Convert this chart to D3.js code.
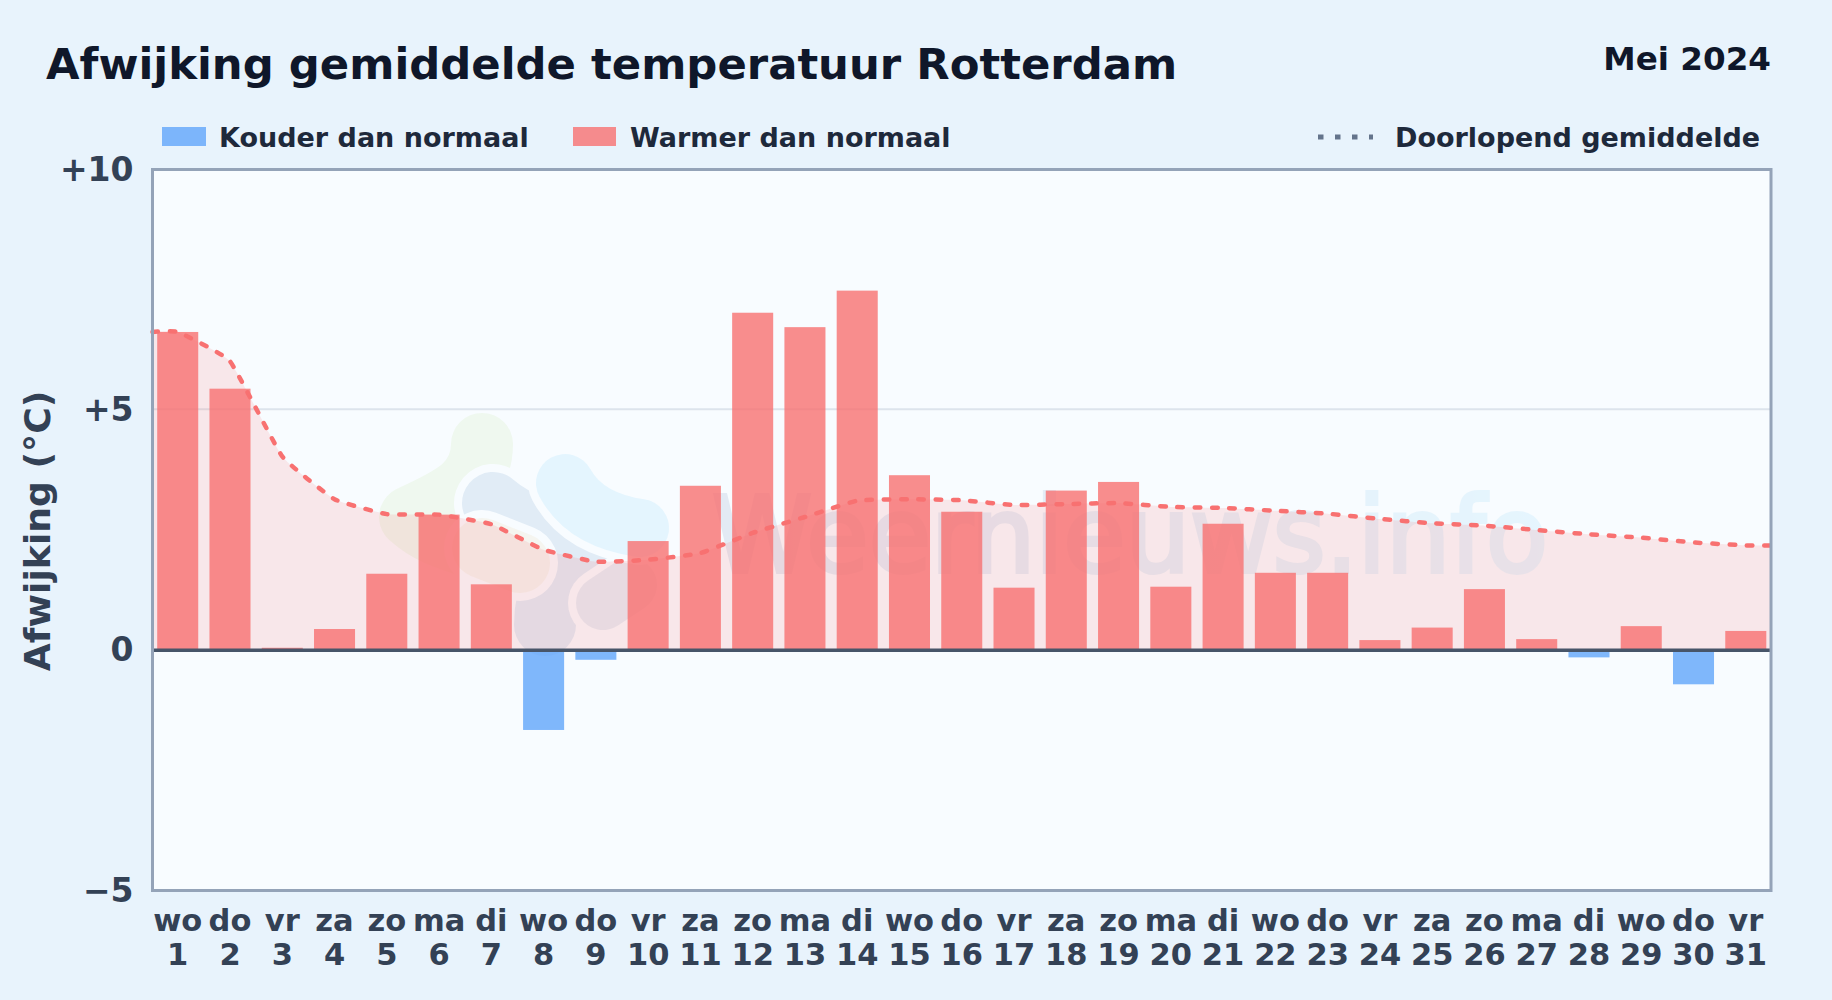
<!DOCTYPE html>
<html>
<head>
<meta charset="utf-8">
<script src="https://cdn.jsdelivr.net/npm/d3@7"></script>
<style>
html, body { margin: 0; padding: 0; background: #e8f3fc; }
svg { display: block; font-family: "DejaVu Sans", sans-serif; font-weight: 700; }
</style>
</head>
<body>
<div id="chart"></div>
<script>
// Values
const weekdays = ["wo","do","vr","za","zo","ma","di","wo","do","vr","za","zo","ma","di","wo","do","vr","za","zo","ma","di","wo","do","vr","za","zo","ma","di","wo","do","vr"];
const days = [1,2,3,4,5,6,7,8,9,10,11,12,13,14,15,16,17,18,19,20,21,22,23,24,25,26,27,28,29,30,31];
const deviation = [6.62,5.44,0.05,0.44,1.59,2.82,1.37,-1.66,-0.2,2.27,3.42,7.02,6.72,7.48,3.64,2.88,1.3,3.32,3.5,1.32,2.63,1.61,1.61,0.21,0.47,1.27,0.23,-0.15,0.5,-0.71,0.4];
const runningMean = [6.62,6.01,4.03,3.14,2.83,2.82,2.62,2.09,1.84,1.88,2.02,2.44,2.77,3.11,3.14,3.12,3.02,3.04,3.06,2.98,2.96,2.9,2.84,2.73,2.64,2.59,2.5,2.41,2.34,2.24,2.18];
const yTicks = [10,5,0,-5];
const yLabels = ["+10","+5","0","\u22125"];

const width = 1832, height = 1000;
const plotLeft = 152.5, plotRight = 1771, plotTop = 169.5, plotBottom = 890.5;
const dark = "#0f172a", label = "#334155", legendText = "#1e293b";
const warm = "#f87171", cold = "#60a5fa", lineColor = "#f87171", plotBg = "#f8fcff";

const svg = d3.select("#chart")
    .append("svg")
    .attr("width", width)
    .attr("height", height)
    .attr("viewBox", "0 0 "+width+" "+height);

const x = d3.scaleBand().domain(days).range([plotLeft, plotRight]).paddingInner(0.215).paddingOuter(0.09);
const y = d3.scaleLinear().domain([-5, 10]).range([plotBottom, plotTop]);

// Background
svg.append("rect").attr("width", width).attr("height", height).attr("fill", "#e8f3fc");
svg.append("rect").attr("x", plotLeft).attr("y", plotTop)
    .attr("width", plotRight-plotLeft).attr("height", plotBottom-plotTop).attr("fill", plotBg);

// Watermark logo and name
const logo = svg.append("g").attr("fill", "none").attr("stroke-linecap", "round").attr("stroke-linejoin", "round");
const blob = (d, color, w, op) => {
    logo.append("path").attr("d", d).attr("stroke", plotBg).attr("stroke-width", w+16);
    logo.append("path").attr("d", d).attr("stroke", color).attr("stroke-width", w).attr("stroke-opacity", op);
};
blob("M482,444C482,487 445,500 410,517C430,535 450,540 475,548", "#84cc16", 62, 0.07);
blob("M493,503Q527,532 587,540Q545,575 545,625", "#1d5fa8", 62, 0.1);
blob("M482,548L520,563", "#d9a441", 60, 0.08);
blob("M603,603L630,585", "#3b5b8c", 54, 0.09);
blob("M565,483Q585,520 640,528", "#38bdf8", 58, 0.1);

const wmGrad = svg.append("defs").append("linearGradient").attr("id", "wm")
    .attr("gradientUnits", "userSpaceOnUse")
    .attr("x1", 712).attr("y1", 0).attr("x2", 1548).attr("y2", 0);
wmGrad.append("stop").attr("offset", "0%").attr("stop-color", "#1e3a8a");
wmGrad.append("stop").attr("offset", "100%").attr("stop-color", "#38bdf8");

svg.append("text")
    .text("Weernieuws.info")
    .attr("x", 712).attr("y", 572)
    .attr("font-size", 106)
    .attr("font-weight", 400)
    .attr("textLength", 836)
    .attr("lengthAdjust", "spacingAndGlyphs")
    .attr("fill", "url(#wm)")
    .attr("stroke", "url(#wm)")
    .attr("stroke-width", 4)
    .attr("opacity", 0.09);

// Grid line
svg.append("line")
    .attr("x1", plotLeft).attr("x2", plotRight)
    .attr("y1", y(5)-0.5).attr("y2", y(5)-0.5)
    .attr("stroke", "#dde4ec").attr("stroke-width", 2);

// Running mean: runs out to both plot edges
const meanPts = [[plotLeft, runningMean[0]]]
    .concat(days.map((d, i) => [x(d)+x.bandwidth()/2, runningMean[i]]))
    .concat([[plotRight, runningMean[runningMean.length-1]]]);
const meanCurve = d3.curveCardinal.tension(0.65);

svg.append("path")
    .datum(meanPts)
    .attr("fill", lineColor)
    .attr("fill-opacity", 0.15)
    .attr("d", d3.area().curve(meanCurve).x(d => d[0]).y0(y(0)).y1(d => y(d[1])));

// Bars
svg.selectAll("rect.bar")
    .data(deviation)
    .enter()
    .append("rect")
    .attr("class", "bar")
    .attr("x", (d, i) => x(days[i]))
    .attr("width", x.bandwidth())
    .attr("y", d => y(Math.max(0, d)))
    .attr("height", d => Math.abs(y(d)-y(0)))
    .attr("fill", d => d < 0 ? cold : warm)
    .attr("fill-opacity", 0.8);

svg.append("path")
    .datum(meanPts)
    .attr("fill", "none")
    .attr("stroke", lineColor)
    .attr("stroke-width", 4.5)
    .attr("stroke-linecap", "round")
    .attr("stroke-dasharray", "5.5,11.8")
    .attr("d", d3.line().curve(meanCurve).x(d => d[0]).y(d => y(d[1])));

// Zero line and frame
svg.append("line")
    .attr("x1", plotLeft).attr("x2", plotRight)
    .attr("y1", y(0)).attr("y2", y(0))
    .attr("stroke", "#475569").attr("stroke-width", 3.5);
svg.append("rect").attr("x", plotLeft).attr("y", plotTop)
    .attr("width", plotRight-plotLeft).attr("height", plotBottom-plotTop)
    .attr("fill", "none").attr("stroke", "#94a3b8").attr("stroke-width", 3);

// Axes
const yAxis = svg.append("g")
    .attr("transform", "translate("+plotLeft+",0)")
    .call(d3.axisLeft(y).tickValues(yTicks).tickSize(0).tickPadding(19).tickFormat((d, i) => yLabels[i]));
yAxis.select(".domain").remove();
yAxis.selectAll("text").attr("font-size", 33).attr("font-family", "DejaVu Sans").attr("font-weight", 700).attr("fill", label);

const xAxis = svg.append("g")
    .attr("transform", "translate(0,"+plotBottom+")")
    .call(d3.axisBottom(x).tickSize(0).tickPadding(0).tickFormat(""));
xAxis.select(".domain").remove();
xAxis.selectAll("g.tick text").each(function(d, i) {
    const t = d3.select(this).attr("y", 0).attr("dy", null)
        .attr("font-size", 30.5).attr("font-family", "DejaVu Sans").attr("font-weight", 700).attr("fill", label);
    t.append("tspan").attr("x", 0).attr("y", 40).text(weekdays[i]);
    t.append("tspan").attr("x", 0).attr("y", 74).text(days[i]);
});

svg.append("text")
    .text("Afwijking (\u00b0C)")
    .attr("transform", "translate(50,"+(y(0)+21)+") rotate(-90)")
    .attr("font-size", 36.2)
    .attr("fill", label);

// Title
svg.append("text").text("Afwijking gemiddelde temperatuur Rotterdam")
    .attr("x", 46).attr("y", 79).attr("font-size", 43.35).attr("fill", dark);
svg.append("text").text("Mei 2024")
    .attr("x", 1771).attr("y", 70).attr("text-anchor", "end").attr("font-size", 32.6).attr("fill", dark);

// Legend
const legend = svg.append("g").attr("font-size", 27).attr("fill", legendText);
legend.append("rect").attr("x", 162).attr("y", 127).attr("width", 44).attr("height", 19).attr("fill", cold).attr("fill-opacity", 0.8);
legend.append("text").text("Kouder dan normaal").attr("x", 219).attr("y", 147);
legend.append("rect").attr("x", 573).attr("y", 127).attr("width", 43).attr("height", 19).attr("fill", warm).attr("fill-opacity", 0.8);
legend.append("text").text("Warmer dan normaal").attr("x", 630).attr("y", 147);
legend.append("line")
    .attr("x1", 1318).attr("x2", 1373).attr("y1", 137).attr("y2", 137)
    .attr("stroke", "#64748b").attr("stroke-width", 5).attr("stroke-dasharray", "5.5,11.5");
legend.append("text").text("Doorlopend gemiddelde").attr("x", 1395).attr("y", 147);
</script>
</body>
</html>
